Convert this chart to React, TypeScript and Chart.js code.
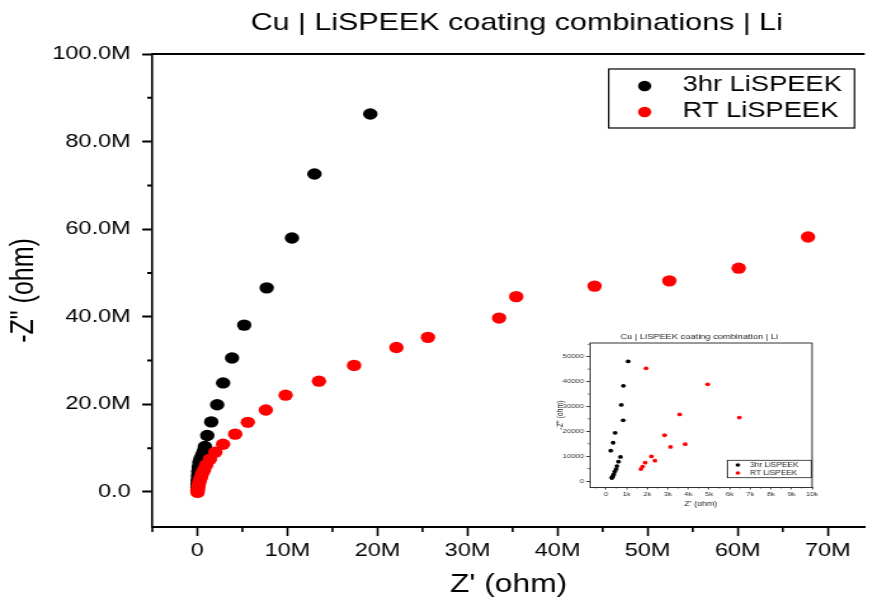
import React, { useEffect, useRef } from 'react';
import { Chart, registerables } from 'chart.js';

Chart.register(...registerables);

// horizontal stretch of the reference picture
const S = 1.27;
const FONT = "'Liberation Sans', Arial, Helvetica, sans-serif";

const MAIN_TITLE = 'Cu | LiSPEEK coating combinations | Li';
const INSET_TITLE = 'Cu | LiSPEEK coating combination | Li';
const SERIES = ['3hr LiSPEEK', 'RT LiSPEEK'];
const COLORS = ['#000000', '#ff0000'];
const X_TITLE = "Z' (ohm)";
const Y_TITLE = '-Z" (ohm)';

// ---- main chart data (ohm) ----
const hr3Re = [0.0e6, 0.01e6, 0.02e6, 0.04e6, 0.07e6, 0.1e6, 0.15e6, 0.22e6, 0.35e6, 0.52e6, 0.7e6, 0.84e6, 1.1e6, 1.54e6, 2.2e6, 2.86e6, 3.85e6, 5.2e6, 7.7e6, 10.5e6, 13.0e6, 19.2e6];
const hr3Im = [0.3e6, 1.0e6, 1.8e6, 2.7e6, 3.7e6, 4.7e6, 5.7e6, 6.7e6, 7.6e6, 8.4e6, 9.3e6, 10.4e6, 12.9e6, 16.0e6, 19.9e6, 24.9e6, 30.6e6, 38.1e6, 46.6e6, 58.0e6, 72.6e6, 86.3e6];
const rtRe = [0.02e6, 0.04e6, 0.08e6, 0.13e6, 0.2e6, 0.3e6, 0.42e6, 0.56e6, 0.75e6, 1.0e6, 1.4e6, 2.0e6, 2.85e6, 4.2e6, 5.6e6, 7.6e6, 9.8e6, 13.5e6, 17.4e6, 22.1e6, 25.6e6, 33.5e6, 35.4e6, 44.1e6, 52.4e6, 60.1e6, 67.8e6];
const rtIm = [-0.1e6, 0.4e6, 0.9e6, 1.5e6, 2.1e6, 2.8e6, 3.5e6, 4.3e6, 5.1e6, 6.2e6, 7.5e6, 9.1e6, 10.9e6, 13.2e6, 15.9e6, 18.7e6, 22.1e6, 25.3e6, 28.9e6, 33.0e6, 35.3e6, 39.7e6, 44.6e6, 47.0e6, 48.2e6, 51.1e6, 58.2e6];

const mainXTicks = [0, 10e6, 20e6, 30e6, 40e6, 50e6, 60e6, 70e6];
const mainXMinor = [-5e6, 5e6, 15e6, 25e6, 35e6, 45e6, 55e6, 65e6];
const mainYTicks = [0, 20e6, 40e6, 60e6, 80e6, 100e6];
const mainYMinor = [10e6, 30e6, 50e6, 70e6, 90e6];

// ---- inset data (ohm) ----
const insetHr3Re = [1070, 840, 740, 830, 440, 340, 230, 700, 600, 530, 490, 420, 370, 320, 290, 280];
const insetHr3Im = [48100, 38300, 30600, 24400, 19400, 15400, 12200, 9700, 7800, 6000, 4800, 3800, 2700, 1900, 1500, 1200];
const insetRtRe = [1940, 4930, 3570, 6470, 2840, 3840, 3130, 2200, 2370, 1900, 1770, 1690];
const insetRtIm = [45300, 38900, 26800, 25500, 18400, 14800, 13700, 9900, 8200, 7400, 5800, 4800];

const insetXTicks = [0, 1000, 2000, 3000, 4000, 5000, 6000, 7000, 8000, 9000, 10000];
const insetXMinor = [-500, 500, 1500, 2500, 3500, 4500, 5500, 6500, 7500, 8500, 9500];
const insetYTicks = [0, 10000, 20000, 30000, 40000, 50000];
const insetYMinor = [5000, 15000, 25000, 35000, 45000, 55000];

const fmtMainY = (v: number) => (v === 0 ? '0.0' : (v / 1e6).toFixed(1) + 'M');
const fmtMainX = (v: number) => (v === 0 ? '0' : Math.round(v / 1e6) + 'M');
const fmtInsetX = (v: number) => (v === 0 ? '0' : Math.round(v / 1000) + 'k');
const fmtInsetY = (v: number) => String(Math.round(v));

const W_MAIN = 687;
const H_MAIN = 600;
const W_INSET = 236;
const H_INSET = 197;

const mainDecor = {
  id: 'mainDecor',
  afterDraw(chart: any) {
    const { ctx, chartArea: a, scales } = chart;
    const x = scales.x;
    const y = scales.y;
    ctx.save();
    ctx.strokeStyle = '#000';
    ctx.lineWidth = 2;
    ctx.beginPath();
    ctx.moveTo(a.left - 0.8, a.top);
    ctx.lineTo(a.right, a.top);
    ctx.stroke();
    ctx.beginPath();
    ctx.lineWidth = 1.6;
    for (const v of mainXMinor) {
      const px = x.getPixelForValue(v);
      ctx.moveTo(px, a.bottom);
      ctx.lineTo(px, a.bottom + 5);
    }
    ctx.stroke();
    ctx.beginPath();
    ctx.lineWidth = 2;
    for (const v of mainYMinor) {
      const py = y.getPixelForValue(v);
      ctx.moveTo(a.left, py);
      ctx.lineTo(a.left - 4, py);
    }
    ctx.stroke();
    // title
    ctx.fillStyle = '#000';
    ctx.font = `24px ${FONT}`;
    ctx.textAlign = 'center';
    ctx.textBaseline = 'middle';
    ctx.fillText(MAIN_TITLE, 517 / S, 23);
    // legend
    const lx0 = 609 / S;
    const lx1 = 855 / S;
    const ly0 = 69;
    const ly1 = 128;
    ctx.lineWidth = 1.2;
    ctx.strokeRect(lx0, ly0, lx1 - lx0, ly1 - ly0);
    const rows = [86, 112];
    chart.data.datasets.forEach((ds: any, i: number) => {
      ctx.fillStyle = ds.backgroundColor;
      ctx.beginPath();
      ctx.arc(645 / S, rows[i], 5.2, 0, Math.PI * 2);
      ctx.fill();
      ctx.fillStyle = '#000';
      ctx.font = `21.5px ${FONT}`;
      ctx.textAlign = 'left';
      ctx.textBaseline = 'middle';
      ctx.fillText(ds.label, 683 / S, rows[i] - 1);
    });
    ctx.restore();
  },
};

const insetDecor = {
  id: 'insetDecor',
  afterDraw(chart: any) {
    const { ctx, chartArea: a, scales } = chart;
    const x = scales.x;
    const y = scales.y;
    ctx.save();
    ctx.strokeStyle = '#333';
    ctx.lineWidth = 1;
    ctx.beginPath();
    ctx.moveTo(a.left, a.top);
    ctx.lineTo(a.right, a.top);
    ctx.lineTo(a.right, a.bottom);
    ctx.stroke();
    ctx.beginPath();
    ctx.lineWidth = 0.8;
    for (const v of insetXMinor) {
      const px = x.getPixelForValue(v);
      ctx.moveTo(px, a.bottom);
      ctx.lineTo(px, a.bottom + 1.5);
    }
    for (const v of insetYMinor) {
      const py = y.getPixelForValue(v);
      ctx.moveTo(a.left, py);
      ctx.lineTo(a.left - 1.5, py);
    }
    ctx.stroke();
    // title
    ctx.fillStyle = '#222';
    ctx.font = `7.3px ${FONT}`;
    ctx.textAlign = 'center';
    ctx.textBaseline = 'middle';
    ctx.fillText(INSET_TITLE, 159 / S, 19);
    // legend
    const lx0 = 187.3 / S;
    const lx1 = 271 / S;
    const ly0 = 142.3;
    const ly1 = 159.7;
    ctx.strokeStyle = '#222';
    ctx.lineWidth = 0.8;
    ctx.strokeRect(lx0, ly0, lx1 - lx0, ly1 - ly0);
    const rows = [147, 155];
    chart.data.datasets.forEach((ds: any, i: number) => {
      ctx.fillStyle = ds.backgroundColor;
      ctx.beginPath();
      ctx.arc(197.7 / S, rows[i], 1.8, 0, Math.PI * 2);
      ctx.fill();
      ctx.fillStyle = '#222';
      ctx.font = `6.5px ${FONT}`;
      ctx.textAlign = 'left';
      ctx.textBaseline = 'middle';
      ctx.fillText(ds.label, 210 / S, rows[i]);
    });
    ctx.restore();
  },
};

function pts(xs: number[], ys: number[]) {
  return xs.map((x, i) => ({ x, y: ys[i] }));
}

function mainConfig(): any {
  return {
    type: 'scatter',
    data: {
      datasets: [
        { label: SERIES[0], data: pts(hr3Re, hr3Im), backgroundColor: COLORS[0], borderColor: COLORS[0], pointRadius: 5.7, pointBorderWidth: 0, order: 1 },
        { label: SERIES[1], data: pts(rtRe, rtIm), backgroundColor: COLORS[1], borderColor: COLORS[1], pointRadius: 5.7, pointBorderWidth: 0, order: 0 },
      ],
    },
    options: {
      animation: false,
      responsive: false,
      devicePixelRatio: 1,
      events: [],
      layout: { padding: { top: 54, right: 0, bottom: 0, left: 0 } },
      plugins: { legend: { display: false }, tooltip: { enabled: false }, title: { display: false } },
      scales: {
        x: {
          type: 'linear',
          position: 'bottom',
          min: -5e6,
          max: 74.1e6,
          afterBuildTicks: (s: any) => { s.ticks = mainXTicks.map((value) => ({ value })); },
          afterFit: (s: any) => { s.height = 73; },
          grid: { display: true, drawOnChartArea: false, drawTicks: true, tickLength: 9, tickWidth: 1.6, tickColor: '#000' },
          border: { display: true, color: '#000', width: 2 },
          ticks: { autoSkip: false, maxRotation: 0, padding: 4, color: '#000', font: { family: FONT, size: 18.5 }, callback: (v: any) => fmtMainX(Number(v)) },
          title: { display: true, text: X_TITLE, color: '#000', font: { family: FONT, size: 25, lineHeight: 1.2 }, padding: { top: 0, bottom: 0 } },
        },
        y: {
          type: 'linear',
          position: 'left',
          min: -8e6,
          max: 100e6,
          afterBuildTicks: (s: any) => { s.ticks = mainYTicks.map((value) => ({ value })); },
          afterFit: (s: any) => { s.width = 120; },
          grid: { display: true, drawOnChartArea: false, drawTicks: true, tickLength: 8, tickWidth: 2, tickColor: '#000' },
          border: { display: true, color: '#000', width: 1.6 },
          ticks: { autoSkip: false, padding: 9, color: '#000', font: { family: FONT, size: 18.5 }, callback: (v: any) => fmtMainY(Number(v)) },
          title: { display: true, text: Y_TITLE, color: '#000', font: { family: FONT, size: 25, lineHeight: 1.2 }, padding: { top: 4, bottom: 0 } },
        },
      },
    },
    plugins: [mainDecor],
  };
}

function insetConfig(): any {
  return {
    type: 'scatter',
    data: {
      datasets: [
        { label: SERIES[0], data: pts(insetHr3Re, insetHr3Im), backgroundColor: COLORS[0], borderColor: COLORS[0], pointRadius: 1.9, pointBorderWidth: 0, order: 1 },
        { label: SERIES[1], data: pts(insetRtRe, insetRtIm), backgroundColor: COLORS[1], borderColor: COLORS[1], pointRadius: 1.9, pointBorderWidth: 0, order: 0 },
      ],
    },
    options: {
      animation: false,
      responsive: false,
      devicePixelRatio: 1,
      events: [],
      layout: { padding: { top: 25, right: 22, bottom: 0, left: 0 } },
      plugins: { legend: { display: false }, tooltip: { enabled: false }, title: { display: false } },
      scales: {
        x: {
          type: 'linear',
          position: 'bottom',
          min: -800,
          max: 10000,
          afterBuildTicks: (s: any) => { s.ticks = insetXTicks.map((value) => ({ value })); },
          afterFit: (s: any) => { s.height = 28; },
          grid: { display: true, drawOnChartArea: false, drawTicks: true, tickLength: 2.5, tickWidth: 0.8, tickColor: '#333' },
          border: { display: true, color: '#333', width: 1 },
          ticks: { autoSkip: false, maxRotation: 0, padding: 1.5, color: '#333', font: { family: FONT, size: 6 }, callback: (v: any) => fmtInsetX(Number(v)) },
          title: { display: true, text: X_TITLE, color: '#222', font: { family: FONT, size: 7, lineHeight: 1.2 }, padding: { top: 0, bottom: 7 } },
        },
        y: {
          type: 'linear',
          position: 'left',
          min: -2400,
          max: 55500,
          afterBuildTicks: (s: any) => { s.ticks = insetYTicks.map((value) => ({ value })); },
          afterFit: (s: any) => { s.width = 39; },
          grid: { display: true, drawOnChartArea: false, drawTicks: true, tickLength: 2.5, tickWidth: 1, tickColor: '#333' },
          border: { display: true, color: '#333', width: 0.9 },
          ticks: { autoSkip: false, padding: 2, color: '#333', font: { family: FONT, size: 6 }, callback: (v: any) => fmtInsetY(Number(v)) },
          title: { display: true, text: Y_TITLE, color: '#222', font: { family: FONT, size: 7, lineHeight: 1.2 }, padding: { top: 11.5, bottom: 0 } },
        },
      },
    },
    plugins: [insetDecor],
  };
}

export default function App() {
  const mainRef = useRef<HTMLCanvasElement>(null);
  const insetRef = useRef<HTMLCanvasElement>(null);

  useEffect(() => {
    const main = new Chart(mainRef.current as HTMLCanvasElement, mainConfig());
    const inset = new Chart(insetRef.current as HTMLCanvasElement, insetConfig());
    return () => {
      main.destroy();
      inset.destroy();
    };
  }, []);

  return (
    <div style={{ position: 'fixed', left: 0, top: 0, width: 873, height: 600, overflow: 'hidden', background: '#fff' }}>
      <canvas
        ref={mainRef}
        width={W_MAIN}
        height={H_MAIN}
        style={{ position: 'absolute', left: 0, top: 0, width: `${W_MAIN * S}px`, height: `${H_MAIN}px` }}
      />
      <canvas
        ref={insetRef}
        width={W_INSET}
        height={H_INSET}
        style={{ position: 'absolute', left: 540, top: 318, width: `${W_INSET * S}px`, height: `${H_INSET}px` }}
      />
    </div>
  );
}
